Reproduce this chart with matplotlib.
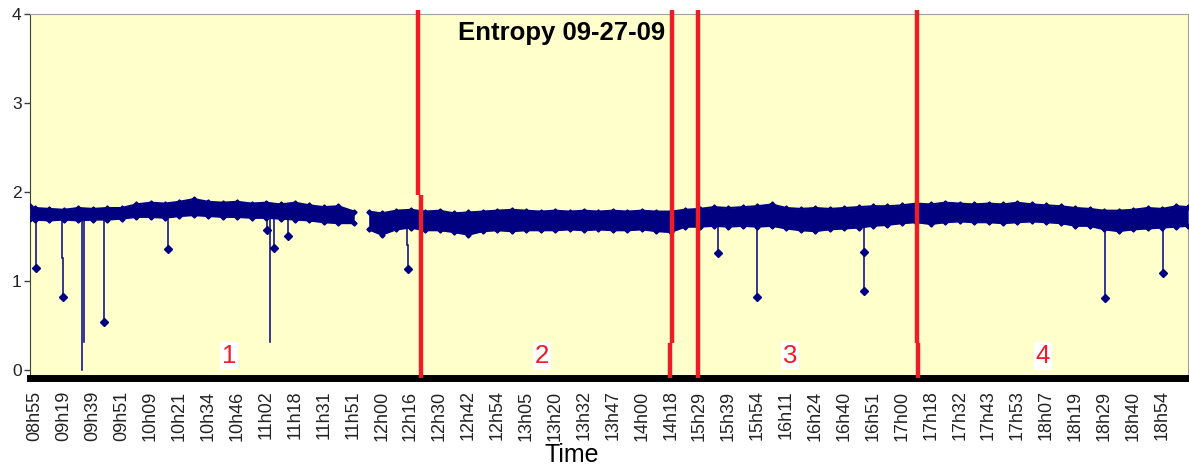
import numpy as np
import matplotlib
matplotlib.use("Agg")
import matplotlib.pyplot as plt

plt.rcParams['font.family'] = ['Liberation Sans', 'DejaVu Sans']

# category labels along the time axis (one every tick)
time_labels = ["08h55", "09h19", "09h39", "09h51", "10h09", "10h21", "10h34", "10h46",
               "11h02", "11h18", "11h31", "11h51", "12h00", "12h16", "12h30", "12h42",
               "12h54", "13h05", "13h20", "13h32", "13h47", "14h00", "14h18", "15h29",
               "15h39", "15h54", "16h11", "16h24", "16h40", "16h51", "17h00", "17h18",
               "17h32", "17h43", "17h53", "18h07", "18h19", "18h29", "18h40", "18h54"]

# entropy band (upper / lower envelope), morning segment before the gap
seg_a_x = [-0.17, 0.0, 0.5, 1.0, 1.5, 2.0, 2.5, 3.0, 3.5, 4.0, 4.5, 5.0, 5.5, 6.0,
           6.5, 7.0, 7.5, 8.0, 8.5, 9.0, 9.5, 10.0, 10.5, 11.05]
seg_a_hi = [1.84, 1.82, 1.81, 1.80, 1.82, 1.81, 1.82, 1.82, 1.86, 1.88, 1.87, 1.89,
            1.92, 1.89, 1.88, 1.89, 1.87, 1.88, 1.86, 1.88, 1.85, 1.83, 1.84, 1.78]
seg_a_lo = [1.70, 1.69, 1.68, 1.69, 1.68, 1.69, 1.69, 1.70, 1.72, 1.72, 1.71, 1.73,
            1.74, 1.73, 1.72, 1.72, 1.71, 1.71, 1.70, 1.69, 1.68, 1.66, 1.65, 1.65]

# segment after the gap
seg_b_x = [11.55, 12.0, 12.5, 13.0, 13.5, 14.0, 14.5, 15.0, 15.5, 16.0, 16.5, 17.0,
           17.5, 18.0, 18.5, 19.0, 19.5, 20.0, 20.5, 21.0, 21.5, 22.0, 22.5, 23.0,
           23.5, 24.0, 24.5, 25.0, 25.5, 26.0, 26.5, 27.0, 27.5, 28.0, 28.5, 29.0,
           29.5, 30.0, 30.5, 31.0, 31.5, 32.0, 32.5, 33.0, 33.5, 34.0, 34.5, 35.0,
           35.5, 36.0, 36.5, 37.0, 37.5, 38.0, 38.5, 39.0, 39.5, 39.9]
seg_b_hi = [1.78, 1.76, 1.79, 1.80, 1.78, 1.79, 1.76, 1.77, 1.78, 1.79, 1.80, 1.79,
            1.78, 1.79, 1.78, 1.79, 1.78, 1.79, 1.78, 1.79, 1.78, 1.78, 1.80, 1.81,
            1.83, 1.82, 1.83, 1.84, 1.86, 1.82, 1.81, 1.82, 1.81, 1.82, 1.83, 1.84,
            1.84, 1.85, 1.87, 1.86, 1.88, 1.87, 1.86, 1.87, 1.86, 1.88, 1.86, 1.85,
            1.84, 1.82, 1.81, 1.79, 1.79, 1.80, 1.82, 1.81, 1.84, 1.83]
seg_b_lo = [1.58, 1.52, 1.58, 1.60, 1.57, 1.57, 1.55, 1.52, 1.56, 1.57, 1.56, 1.57,
            1.57, 1.57, 1.58, 1.57, 1.58, 1.57, 1.57, 1.58, 1.56, 1.55, 1.61, 1.61,
            1.62, 1.61, 1.62, 1.61, 1.62, 1.59, 1.57, 1.56, 1.58, 1.59, 1.60, 1.62,
            1.63, 1.65, 1.66, 1.64, 1.66, 1.67, 1.66, 1.66, 1.65, 1.66, 1.67, 1.66,
            1.65, 1.62, 1.62, 1.58, 1.56, 1.58, 1.59, 1.60, 1.61, 1.62]

# isolated drops in entropy: position, level the drop starts from, lowest value
dip_x = [0.03, 0.94, 0.96, 1.62, 1.70, 2.39, 4.60, 8.02, 8.13, 8.27, 8.75,
         12.88, 12.90, 23.63, 25.00, 28.70, 28.70, 37.02, 39.02]
dip_from = [1.70, 1.69, 1.26, 1.69, 1.69, 1.69, 1.70, 1.71, 1.71, 1.71, 1.70,
            1.60, 1.40, 1.62, 1.61, 1.60, 1.33, 1.57, 1.60]
dip_to = [1.15, 1.26, 0.82, 0.0, 0.32, 0.54, 1.36, 1.57, 0.32, 1.37, 1.50,
          1.40, 1.13, 1.32, 0.82, 1.33, 0.89, 0.81, 1.09]
dip_marked = [1, 0, 1, 0, 0, 1, 1, 1, 0, 1, 1, 0, 1, 1, 1, 1, 1, 1, 1]

# red phase separators (upper x, lower x, y where the line jogs)
sep_upper_x = [13.25, 22.03, 22.94, 30.51]
sep_lower_x = [13.36, 21.97, 22.94, 30.56]
sep_break_y = [1.97, 0.30, 0.30, 0.30]

phase_names = ["1", "2", "3", "4"]
phase_x = [6.71, 17.54, 26.12, 34.88]

navy = '#000080'
red = '#ee1c24'

fig = plt.figure(figsize=(11.89, 4.66), dpi=100)
ax = fig.add_axes([30 / 1189, 1 - 378 / 466, 1158 / 1189, 364 / 466])
ax.set_facecolor('#ffffcc')
ax.set_xlim(-0.17, 39.9)
ax.set_ylim(-0.09, 4.0)

# entropy band
for sx, hi, lo in [(seg_a_x, seg_a_hi, seg_a_lo), (seg_b_x, seg_b_hi, seg_b_lo)]:
    ax.fill_between(sx, lo, hi, color=navy, lw=0, zorder=3)
    ax.plot(sx, hi, color=navy, lw=1.5, marker='D', ms=2.6, zorder=3)
    ax.plot(sx, lo, color=navy, lw=1.5, marker='D', ms=2.6, zorder=3)

# drops
for x, y0, y1, mk in zip(dip_x, dip_from, dip_to, dip_marked):
    ax.plot([x, x], [y0, y1], color=navy, lw=1.1, zorder=3)
    if mk:
        ax.plot([x], [y1], color=navy, marker='D', ms=4, zorder=3)

# phase separators
for xu, xl, yb in zip(sep_upper_x, sep_lower_x, sep_break_y):
    ax.plot([xu, xu], [4.05, yb], color=red, lw=3.2, clip_on=False, zorder=5,
            solid_capstyle='butt')
    ax.plot([xl, xl], [yb, -0.09], color=red, lw=3.2, clip_on=False, zorder=5,
            solid_capstyle='butt')

for name, x in zip(phase_names, phase_x):
    ax.text(x, 0.16, name, color=red, fontsize=18.5, ha='center', va='center', zorder=6,
            bbox=dict(facecolor='white', edgecolor='none', pad=1.5))

ax.text(18.24, 3.79, "Entropy 09-27-09", fontsize=18.5, fontweight='bold',
        ha='center', va='center', color='black', zorder=6)

ax.set_yticks([0, 1, 2, 3, 4])
ax.set_xticks(np.arange(len(time_labels)))
ax.set_xticklabels(time_labels, rotation=90, fontsize=13, color='#222222')
ax.tick_params(axis='x', length=0, pad=9)
ax.tick_params(axis='y', length=4, width=1, color='#404040', labelsize=12.5,
               labelcolor='#222222', pad=2)

ax.spines['left'].set_color('#404040')
ax.spines['top'].set_color('#a0a0a0')
ax.spines['right'].set_color('#a0a0a0')
ax.spines['bottom'].set_color('black')
ax.spines['bottom'].set_linewidth(5)
ax.spines['bottom'].set_zorder(4)

fig.text(572 / 1189, 1 - 455 / 466, "Time", fontsize=18, ha='center', va='center')

fig.savefig("out.png", dpi=100)
